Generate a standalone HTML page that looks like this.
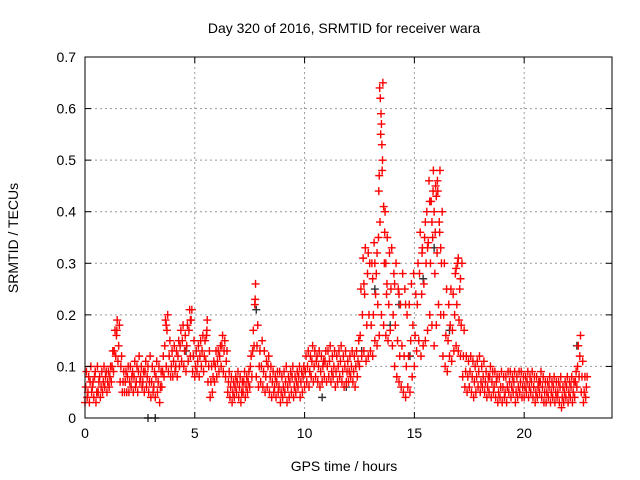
<!DOCTYPE html>
<html><head><meta charset="utf-8"><style>
body{margin:0;background:#fff;}
svg{display:block;font-family:"Liberation Sans",sans-serif;}
</style></head><body>
<svg id="chart" width="640" height="480" viewBox="0 0 640 480" xmlns="http://www.w3.org/2000/svg">
<rect width="640" height="480" fill="#fff"/>
<text x="344" y="33" text-anchor="middle" font-size="14" fill="#000">Day 320 of 2016, SRMTID for receiver wara</text>
<text x="344" y="471" text-anchor="middle" font-size="14" fill="#000">GPS time / hours</text>
<text transform="translate(18,238) rotate(-90)" text-anchor="middle" font-size="14" fill="#000">SRMTID / TECUs</text>
<g id="grid"></g>
<g id="marks"></g>
<rect x="85" y="57" width="527" height="361" fill="none" stroke="#000" stroke-width="1"/>
<g id="ticks"></g>
</svg>
<script>
const xTicks=[0,5,10,15,20];
const yTicks=[0,0.1,0.2,0.3,0.4,0.5,0.6,0.7];
const yTickLabels=["0","0.1","0.2","0.3","0.4","0.5","0.6","0.7"];
const tStart=0, tStep=0.1;
const lowValues=[
.03,.04,.03,.05,.04,.03,.05,.04,.05,.06,
.05,.06,.07,.09,.12,.11,.07,.05,.05,.05,
.05,.06,.05,.06,.05,.07,.06,.05,.06,.05,
.04,.05,.04,.05,.03,.06,.08,.10,.09,.08,
.08,.09,.08,.10,.11,.10,.09,.11,.12,.09,
.08,.09,.08,.10,.09,.11,.07,.04,.05,.07,
.08,.09,.10,.09,.08,.05,.04,.03,.04,.05,
.04,.03,.05,.04,.05,.06,.08,.14,.08,.06,
.07,.06,.05,.06,.05,.04,.05,.04,.05,.03,
.04,.05,.03,.04,.05,.04,.05,.06,.04,.05,
.06,.07,.06,.08,.07,.08,.07,.06,.07,.08,
.07,.08,.07,.08,.06,.07,.08,.07,.06,.07,
.07,.08,.07,.06,.08,.10,.12,.13,.11,.12,
.13,.12,.15,.14,.16,.20,.18,.16,.15,.17,
.14,.10,.08,.07,.06,.05,.04,.06,.05,.08,
.10,.13,.15,.12,.14,.15,.17,.20,.18,.14,
.18,.22,.20,.12,.10,.09,.12,.11,.13,.14,
.13,.12,.08,.06,.05,.06,.05,.04,.05,.06,
.05,.06,.05,.04,.05,.04,.05,.04,.03,.04,
.03,.04,.03,.05,.04,.05,.03,.04,.05,.04,
.04,.05,.04,.05,.04,.03,.04,.05,.04,.03,
.03,.04,.03,.04,.03,.04,.03,.02,.03,.04,
.03,.04,.03,.04,.06,.08,.05,.03,.04];
const midValues=[
.06,.05,.07,.06,.08,.05,.07,.06,.07,.08,
.07,.08,.10,.13,.16,.14,.10,.07,.07,.08,
.07,.08,.08,.07,.09,.08,.07,.09,.08,.07,
.07,.06,.08,.07,.06,.09,.14,.17,.12,.10,
.11,.10,.12,.14,.15,.13,.14,.17,.19,.12,
.10,.11,.12,.13,.12,.16,.10,.07,.08,.10,
.11,.12,.14,.13,.11,.07,.06,.05,.06,.07,
.06,.05,.07,.06,.07,.10,.13,.22,.14,.10,
.10,.09,.08,.10,.08,.07,.06,.07,.06,.05,
.06,.07,.06,.07,.08,.06,.07,.08,.07,.08,
.09,.10,.09,.11,.10,.11,.10,.09,.10,.11,
.10,.11,.09,.10,.09,.10,.11,.09,.10,.09,
.09,.10,.09,.10,.11,.16,.20,.24,.18,.20,
.18,.20,.24,.22,.38,.48,.30,.24,.22,.25,
.20,.18,.15,.12,.14,.12,.10,.12,.15,.18,
.16,.22,.28,.24,.26,.30,.34,.30,.35,.28,
.32,.38,.30,.20,.16,.15,.18,.17,.20,.22,
.19,.18,.12,.09,.08,.09,.08,.07,.08,.09,
.07,.08,.07,.06,.08,.07,.06,.07,.05,.06,
.06,.05,.06,.07,.06,.07,.05,.06,.07,.06,
.06,.07,.06,.07,.06,.05,.06,.07,.06,.05,
.05,.06,.05,.06,.05,.05,.06,.04,.05,.06,
.05,.06,.05,.07,.10,.12,.08,.05,.06];
const highValues=[
.09,.08,.10,.07,.09,.10,.08,.09,.10,.09,
.09,.10,.13,.17,.19,.18,.12,.09,.09,.10,
.10,.09,.11,.10,.12,.10,.09,.11,.10,.12,
.10,.09,.11,.10,.09,.12,.19,.20,.15,.13,
.14,.13,.15,.17,.18,.16,.18,.21,.21,.15,
.13,.14,.15,.16,.15,.19,.13,.10,.11,.13,
.13,.14,.16,.15,.13,.09,.08,.07,.08,.09,
.08,.07,.09,.08,.09,.12,.17,.26,.18,.13,
.15,.13,.11,.12,.10,.09,.08,.09,.09,.08,
.09,.10,.08,.09,.10,.08,.09,.10,.09,.10,
.12,.13,.12,.14,.13,.12,.13,.12,.11,.13,
.13,.14,.12,.13,.12,.13,.14,.12,.13,.11,
.12,.13,.12,.13,.15,.25,.31,.33,.28,.30,
.30,.34,.28,.35,.55,.65,.40,.35,.32,.33,
.28,.30,.25,.22,.28,.25,.20,.22,.26,.28,
.24,.30,.36,.33,.35,.40,.46,.42,.48,.45,
.44,.48,.40,.30,.25,.22,.25,.24,.28,.30,
.25,.30,.17,.12,.11,.12,.11,.10,.11,.12,
.10,.11,.09,.08,.10,.09,.09,.08,.08,.09,
.08,.08,.09,.09,.08,.09,.08,.09,.09,.08,
.08,.09,.08,.09,.08,.08,.07,.09,.08,.07,
.07,.08,.07,.08,.07,.07,.08,.06,.07,.08,
.07,.08,.07,.09,.14,.16,.11,.08,.08];
const extraTimes=[13.42,13.45,13.48,13.5,13.52,13.55,13.4,13.38,13.6,13.65,13.3,13.2,13.7,13.75,15.7,15.8,15.85,15.9,15.95,16.0,16.05,15.6,15.5,15.35,16.15,16.2,12.7,12.9,13.1,14.1,14.3,14.6,16.9,17.0,17.1,1.45,3.7,4.8,7.75,5.55];
const extraValues=[0.64,0.62,0.59,0.57,0.53,0.50,0.47,0.44,0.41,0.36,0.32,0.30,0.30,0.26,0.42,0.38,0.44,0.40,0.36,0.43,0.46,0.33,0.38,0.32,0.36,0.33,0.26,0.32,0.27,0.26,0.24,0.22,0.29,0.31,0.27,0.17,0.18,0.19,0.23,0.17];
const darkTimes=[2.87,3.2,12.6,13.2,13.9,14.3,14.8,15.4,15.9,16.6,10.8,11.9,7.8,4.6,22.4];
const darkValues=[0.0,0.0,0.13,0.25,0.18,0.22,0.12,0.27,0.33,0.17,0.04,0.06,0.21,0.13,0.14];

const L=85,R=612,T=57,B=418,XMAX=24,YMAX=0.7;
const xs=v=>L+(v/XMAX)*(R-L);
const ys=v=>B-(v/YMAX)*(B-T);
const NS="http://www.w3.org/2000/svg";
const grid=document.getElementById('grid'),marks=document.getElementById('marks'),ticks=document.getElementById('ticks');
function mk(tag,attrs,parent){const e=document.createElementNS(NS,tag);for(const k in attrs)e.setAttribute(k,attrs[k]);parent.appendChild(e);return e;}
xTicks.forEach((v,i)=>{
  const x=xs(v);
  if(v>0){const g=mk('line',{x1:x,x2:x,y1:T,y2:B,stroke:'#999','stroke-dasharray':'2,3'},grid);
  
  }
  mk('line',{x1:x,x2:x,y1:B,y2:B-6,stroke:'#000'},ticks);
  mk('line',{x1:x,x2:x,y1:T,y2:T+6,stroke:'#000'},ticks);
  const t=mk('text',{x:x,y:B+20,'text-anchor':'middle','font-size':'14'},ticks);
  t.textContent=String(v);
  
  
});
yTicks.forEach((v,i)=>{
  const y=ys(v);
  if(v>0&&v<YMAX){const g=mk('line',{x1:L,x2:R,y1:y,y2:y,stroke:'#999','stroke-dasharray':'2,3'},grid);
  
  }
  mk('line',{x1:L,x2:L+6,y1:y,y2:y,stroke:'#000'},ticks);
  mk('line',{x1:R,x2:R-6,y1:y,y2:y,stroke:'#000'},ticks);
  const t=mk('text',{x:L-9,y:y+5,'text-anchor':'end','font-size':'14'},ticks);
  t.textContent=yTickLabels[i];
  
  
});
function plus(t,v,color){
  const x=xs(t),y=ys(v);
  const p=mk('path',{d:`M${x-4} ${y}H${x+4}M${x} ${y-4}V${y+4}`,stroke:color,'stroke-width':'1.4',fill:'none'},marks);
  
  
}
darkTimes.forEach((t,i)=>plus(t,darkValues[i],'#333'));
[[lowValues,0],[midValues,0.033],[highValues,0.066]].forEach(([arr,off])=>{
  arr.forEach((v,i)=>plus(tStart+i*tStep+off,v,'#ff0000'));
});
extraTimes.forEach((t,i)=>plus(t,extraValues[i],'#ff0000'));
</script>
</body></html>
